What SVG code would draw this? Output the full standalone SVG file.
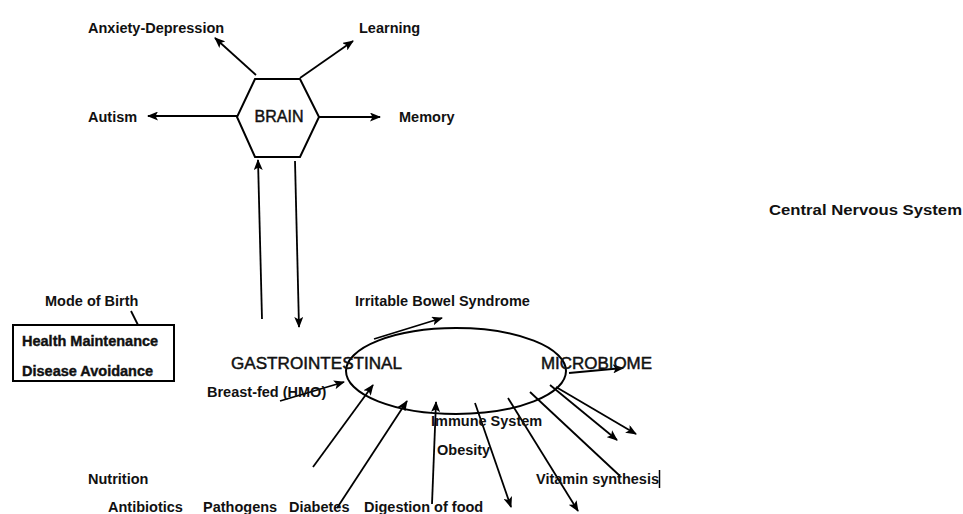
<svg xmlns="http://www.w3.org/2000/svg" width="963" height="514" viewBox="0 0 963 514">
<defs>
<marker id="ah" markerUnits="userSpaceOnUse" markerWidth="11" markerHeight="9" refX="10" refY="4.5" orient="auto">
<path d="M0,0 L11,4.5 L0,9 L2.5,4.5 z" fill="#000"/>
</marker>
<style>
.lbl{font-family:"Liberation Sans",Arial,sans-serif;font-weight:bold;font-size:14.5px;fill:#111}
.big{font-family:"Liberation Sans",Arial,sans-serif;font-size:16px;fill:#111;stroke:#111;stroke-width:0.45}
.shape{fill:none;stroke:#000;stroke-width:2}
.c{fill:none;stroke:#000;stroke-width:1.8}
.a{fill:none;stroke:#000;stroke-width:1.8;marker-end:url(#ah)}
</style>
</defs>
<rect width="963" height="514" fill="#fff"/>

<g id="connectors">
<line class="a" x1="256" y1="75" x2="215" y2="38"/>
<line class="a" x1="300" y1="78" x2="353" y2="41"/>
<line class="a" x1="237" y1="116" x2="148" y2="116"/>
<line class="a" x1="319" y1="117" x2="380" y2="117"/>
<line class="a" x1="262" y1="319" x2="258" y2="160"/>
<line class="a" x1="295" y1="161" x2="299" y2="327"/>
<line class="c" x1="131" y1="311" x2="138" y2="325"/>
<line class="a" x1="280" y1="401" x2="344" y2="382"/>
<line class="a" x1="374" y1="339" x2="442" y2="318"/>
<line class="a" x1="569" y1="373" x2="623" y2="368"/>
<line class="a" x1="313" y1="467" x2="373" y2="385"/>
<line class="a" x1="337" y1="508" x2="407" y2="401"/>
<line class="a" x1="432" y1="504" x2="436" y2="402"/>
<line class="a" x1="475" y1="403" x2="511" y2="507"/>
<line class="a" x1="508" y1="398" x2="578" y2="511"/>
<line class="c" x1="530" y1="392" x2="620" y2="476"/>
<line class="a" x1="550" y1="385" x2="617" y2="440"/>
<line class="a" x1="556" y1="387" x2="636" y2="434"/>
</g>

<g id="brain">
<polygon class="shape" points="255,79 300,79 319,117 300,157 255,157 237,117"/>
<text class="big" x="279" y="122" text-anchor="middle" font-size="17">BRAIN</text>
</g>
<g id="anxiety"><text class="lbl" x="88" y="33">Anxiety-Depression</text></g>
<g id="learning"><text class="lbl" x="359" y="33">Learning</text></g>
<g id="autism"><text class="lbl" x="88" y="122">Autism</text></g>
<g id="memory"><text class="lbl" x="399" y="122">Memory</text></g>
<g id="cns"><text class="lbl" x="769" y="215" font-size="16" textLength="193" lengthAdjust="spacingAndGlyphs">Central Nervous System</text></g>

<g id="mode-of-birth"><text class="lbl" x="45" y="306">Mode of Birth</text></g>
<g id="health-box">
<rect class="shape" x="13" y="325" width="161" height="56"/>
<text class="lbl" x="22" y="346" font-size="13" stroke="#111" stroke-width="0.4">Health Maintenance</text>
<text class="lbl" x="22" y="376" font-size="13" stroke="#111" stroke-width="0.4">Disease Avoidance</text>
</g>

<g id="gut">
<ellipse class="shape" cx="456" cy="371" rx="110" ry="43"/>
<text class="big" x="231" y="369" font-size="18" textLength="171" lengthAdjust="spacingAndGlyphs">GASTROINTESTINAL</text>
<text class="big" x="541" y="369" font-size="18" textLength="111" lengthAdjust="spacingAndGlyphs">MICROBIOME</text>
</g>

<g id="ibs"><text class="lbl" x="355" y="306" font-size="14">Irritable Bowel Syndrome</text></g>
<g id="breastfed"><text class="lbl" x="207" y="397" font-size="14">Breast-fed (HMO)</text></g>
<g id="immune"><text class="lbl" x="431" y="426">Immune System</text></g>
<g id="obesity"><text class="lbl" x="437" y="455">Obesity</text></g>
<g id="vitamin">
<text class="lbl" x="536" y="484">Vitamin synthesis</text>
<line x1="659.5" y1="470" x2="659.5" y2="488" stroke="#000" stroke-width="1.5"/>
</g>
<g id="nutrition"><text class="lbl" x="88" y="484">Nutrition</text></g>
<g id="antibiotics"><text class="lbl" x="108" y="512">Antibiotics</text></g>
<g id="pathogens"><text class="lbl" x="203" y="512">Pathogens</text></g>
<g id="diabetes"><text class="lbl" x="289" y="512">Diabetes</text></g>
<g id="digestion"><text class="lbl" x="364" y="512">Digestion of food</text></g>
</svg>
